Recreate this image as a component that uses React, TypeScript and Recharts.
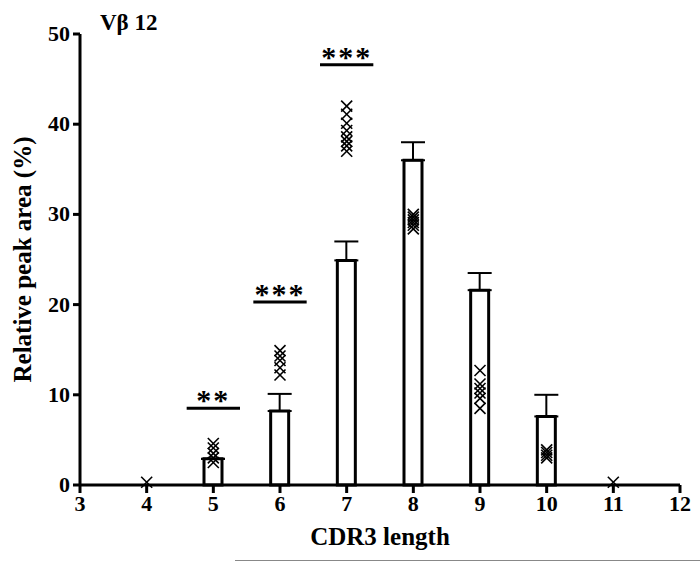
import React from 'react';
import {
  ComposedChart,
  Bar,
  Scatter,
  XAxis,
  YAxis,
  ErrorBar,
  ReferenceLine,
} from 'recharts';

const FONT = '"Liberation Serif", "Times New Roman", serif';

const lengths = [5, 6, 7, 8, 9, 10];
const means = [2.9, 8.2, 24.9, 36.0, 21.6, 7.6];
const sems = [0, 1.9, 2.1, 2.0, 1.9, 2.4];

const crossX = [4, 5, 5, 5, 5, 5, 6, 6, 6, 6, 6, 7, 7, 7, 7, 7, 7, 7, 7, 8, 8, 8, 8, 8, 8, 9, 9, 9, 9, 9, 9, 10, 10, 10, 10, 11];
const crossY = [
  0.3, 2.5, 3.0, 3.5, 4.1, 4.6, 12.2, 13.0, 13.8, 14.3, 14.9, 37.0, 37.6, 38.1, 38.6, 39.3, 40.1, 41.1, 42.0,
  28.4, 28.8, 29.1, 29.4, 29.7, 30.0, 8.5, 9.6, 10.2, 10.7, 11.2, 12.7, 3.0, 3.3, 3.6, 3.9, 0.3,
];

const sigStart = [4.6, 5.6, 6.6];
const sigEnd = [5.4, 6.4, 7.4];
const sigY = [8.5, 20.3, 46.6];
const sigText = ['**', '***', '***'];

const xTicks = [3, 4, 5, 6, 7, 8, 9, 10, 11, 12];
const yTicks = [0, 10, 20, 30, 40, 50];

const barData = lengths.map((x, i) => ({ x, mean: means[i], err: [0, sems[i]] }));
const crossData = crossX.map((x, i) => ({ x, y: crossY[i] }));

const Cross = (props: any) => {
  const { cx, cy } = props;
  const r = 5.5;
  return (
    <g stroke="#000" strokeWidth={1.6}>
      <line x1={cx - r} y1={cy - r} x2={cx + r} y2={cy + r} />
      <line x1={cx - r} y1={cy + r} x2={cx + r} y2={cy - r} />
    </g>
  );
};

const XTick = (props: any) => {
  const { x, y, payload } = props;
  return (
    <text x={x} y={y + 16} textAnchor="middle" fill="#000" fontSize={22} fontWeight={700} fontFamily={FONT}>
      {payload.value}
    </text>
  );
};

const YTick = (props: any) => {
  const { x, y, payload } = props;
  return (
    <text x={x - 1} y={y + 7} textAnchor="end" fill="#000" fontSize={22} fontWeight={700} fontFamily={FONT}>
      {payload.value}
    </text>
  );
};

export default function App() {
  return (
    <div style={{ position: 'absolute', left: 0, top: 0, width: 700, height: 563, background: '#fff' }}>
      <ComposedChart
        width={700}
        height={563}
        data={barData}
        margin={{ top: 34, right: 20, bottom: 48, left: 50 }}
      >
        <XAxis
          dataKey="x"
          type="number"
          domain={[3, 12]}
          ticks={xTicks}
          allowDataOverflow
          height={30}
          stroke="#000"
          strokeWidth={3}
          tickLine={{ stroke: '#000', strokeWidth: 3 }}
          tickSize={8}
          tick={<XTick />}
          label={{
            value: 'CDR3 length',
            position: 'insideBottom',
            offset: -30,
            style: { fill: '#000', fontSize: 25, fontWeight: 700, fontFamily: FONT },
          }}
        />
        <YAxis
          type="number"
          domain={[0, 50]}
          ticks={yTicks}
          width={30}
          stroke="#000"
          strokeWidth={3}
          tickLine={{ stroke: '#000', strokeWidth: 3 }}
          tickSize={7}
          tick={<YTick />}
          label={{
            value: 'Relative peak area (%)',
            angle: -90,
            position: 'insideLeft',
            offset: -28,
            style: { textAnchor: 'middle', fill: '#000', fontSize: 25, fontWeight: 700, fontFamily: FONT },
          }}
        />
        <Bar dataKey="mean" barSize={18} fill="#fff" stroke="#000" strokeWidth={3} isAnimationActive={false}>
          <ErrorBar dataKey="err" width={12} stroke="#000" strokeWidth={2} direction="y" />
        </Bar>
        <Scatter data={crossData} dataKey="y" shape={<Cross />} isAnimationActive={false} />
        {sigStart.map((s, i) => (
          <ReferenceLine
            key={i}
            segment={[
              { x: s, y: sigY[i] },
              { x: sigEnd[i], y: sigY[i] },
            ]}
            stroke="#000"
            strokeWidth={3}
            ifOverflow="visible"
            label={{
              value: sigText[i],
              position: 'top',
              offset: -2,
              style: { fill: '#000', fontSize: 30, fontWeight: 700, fontFamily: FONT, letterSpacing: 2 },
            }}
          />
        ))}
        <text x={100} y={30} fontFamily={FONT} fontSize={23} fontWeight={700} fill="#000">
          Vβ 12
        </text>
      </ComposedChart>
      <div style={{ position: 'absolute', left: 235, top: 560, width: 465, height: 1, background: '#888' }} />
    </div>
  );
}
